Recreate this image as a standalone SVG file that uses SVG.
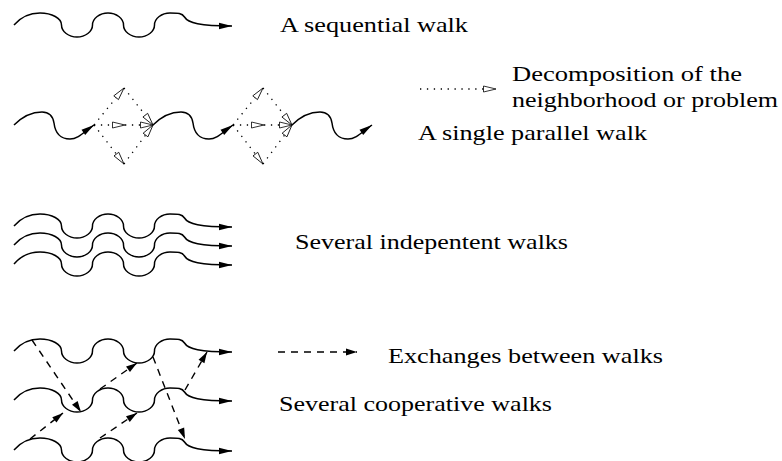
<svg xmlns="http://www.w3.org/2000/svg" width="782" height="461" viewBox="0 0 782 461">
<style>
.walk{fill:none;stroke:#000;stroke-width:1.5}
.dot{fill:none;stroke:#000;stroke-width:1.3;stroke-dasharray:1.3 5.6}
.dash{fill:none;stroke:#000;stroke-width:1.4;stroke-dasharray:7 6}
.t{font-family:'Liberation Serif','Times New Roman',serif;font-size:22px;fill:#000}
</style>
<defs>
<marker id="ah" markerUnits="userSpaceOnUse" viewBox="0 0 14 8" markerWidth="14" markerHeight="8" refX="13" refY="4" orient="auto" overflow="visible">
<path d="M0,0.8 L13,4 L0,7.2 Z" fill="#000" stroke="none"/>
</marker>
<marker id="ah2" markerUnits="userSpaceOnUse" viewBox="0 0 12 8" markerWidth="12" markerHeight="8" refX="11" refY="4" orient="auto" overflow="visible">
<path d="M0,0.6 L11,4 L0,7.4 Z" fill="#000" stroke="none"/>
</marker>
<marker id="oh" markerUnits="userSpaceOnUse" viewBox="0 0 14 8" markerWidth="14" markerHeight="8" refX="13" refY="4" orient="auto" overflow="visible">
<path d="M0.5,1 L13,4 L0.5,7 Z" fill="#fff" stroke="#000" stroke-width="0.8" stroke-dasharray="none"/>
</marker>
<path id="longwalk" class="walk" marker-end="url(#ah)" d="M14,0 C20,-7 28,-12 40,-12 C52,-12 61.5,-6.6 61.5,0 C61.5,6.6 68.7,12 77,12 C85.3,12 92.5,6.6 92.5,0 C92.5,-6.6 99.7,-12 108,-12 C116.3,-12 123.5,-6.6 123.5,0 C123.5,6.6 130.7,12 139,12 C147.3,12 154.5,6.6 154.5,0 C154.5,-6.6 161.7,-12 170,-12 C178,-12 182,-12 184.5,-8 C188,-2 200,1 232,1"/>
<path id="shortwalk" class="walk" marker-end="url(#ah)" d="M0,0 C7,-7 17,-13 28,-13 C36,-13 39,-8 40,-2 C41,6 44,14 56,14 C64,14 70,7 80,0"/>
</defs>

<g id="walk-sequential">
<use href="#longwalk" x="0" y="25"/>
<text class="t" x="280" y="32" textLength="188" lengthAdjust="spacingAndGlyphs">A sequential walk</text>
</g>

<g id="walk-parallel">
<use href="#shortwalk" x="14" y="125"/>
<use href="#shortwalk" x="153" y="125"/>
<use href="#shortwalk" x="292" y="125"/>
<text class="t" x="418" y="140" textLength="229" lengthAdjust="spacingAndGlyphs">A single parallel walk</text>
</g>

<g id="legend-decomposition">
<path class="dot" marker-end="url(#oh)" d="M420,89 L496,89"/>
<text class="t" x="512" y="81" textLength="230" lengthAdjust="spacingAndGlyphs">Decomposition of the</text>
<text class="t" x="512" y="107" textLength="266" lengthAdjust="spacingAndGlyphs">neighborhood or problem</text>
</g>

<g id="walks-independent">
<use href="#longwalk" x="0" y="226"/>
<use href="#longwalk" x="0" y="245"/>
<use href="#longwalk" x="0" y="264"/>
<text class="t" x="295" y="249" textLength="273" lengthAdjust="spacingAndGlyphs">Several indepentent walks</text>
</g>

<g id="walks-cooperative">
<use href="#longwalk" x="0" y="351"/>
<use href="#longwalk" x="0" y="400"/>
<use href="#longwalk" x="0" y="450"/>
<text class="t" x="279" y="411" textLength="273" lengthAdjust="spacingAndGlyphs">Several cooperative walks</text>
</g>

<g id="legend-exchanges">
<path class="dash" marker-end="url(#ah2)" d="M278,352 L357,352"/>
<text class="t" x="388" y="363" textLength="275" lengthAdjust="spacingAndGlyphs">Exchanges between walks</text>
</g>

<g id="connectors">
<g id="decomposition-1">
<path class="dot" marker-end="url(#oh)" d="M94,125 L124,88"/>
<path class="dot" marker-end="url(#oh)" d="M124,88 L153,125"/>
<path class="dot" marker-end="url(#oh)" d="M94,125 L124,164"/>
<path class="dot" marker-end="url(#oh)" d="M124,164 L153,125"/>
<path class="dot" marker-end="url(#oh)" d="M94,125 L125,125"/>
<path class="dot" marker-end="url(#oh)" d="M125,125 L153,125"/>
</g>
<g id="decomposition-2">
<path class="dot" marker-end="url(#oh)" d="M233,125 L263,88"/>
<path class="dot" marker-end="url(#oh)" d="M263,88 L292,125"/>
<path class="dot" marker-end="url(#oh)" d="M233,125 L263,164"/>
<path class="dot" marker-end="url(#oh)" d="M263,164 L292,125"/>
<path class="dot" marker-end="url(#oh)" d="M233,125 L264,125"/>
<path class="dot" marker-end="url(#oh)" d="M264,125 L292,125"/>
</g>
<g id="exchanges">
<path class="dash" marker-end="url(#ah2)" d="M32,340 L81,412"/>
<path class="dash" marker-end="url(#ah2)" d="M100,389 L137,363"/>
<path class="dash" marker-end="url(#ah2)" d="M153,357 L185,439"/>
<path class="dash" marker-end="url(#ah2)" d="M185,390 L207,352"/>
<path class="dash" marker-end="url(#ah2)" d="M30,439 L63,413"/>
<path class="dash" marker-end="url(#ah2)" d="M100,438 L137,413"/>
</g>
</g>
</svg>
